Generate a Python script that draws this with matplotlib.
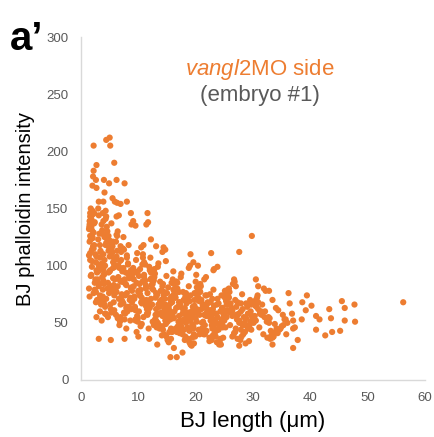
import matplotlib
matplotlib.use("Agg")
import matplotlib.pyplot as plt
import numpy as np

plt.rcParams['font.family'] = ['Liberation Sans', 'DejaVu Sans']
plt.rcParams['mathtext.fontset'] = 'custom'
plt.rcParams['mathtext.rm'] = 'Liberation Sans'
plt.rcParams['mathtext.it'] = 'Liberation Sans:italic'

# ---- data: (BJ length [um], BJ phalloidin intensity) ----
outliers = [(2.2,205),(4.4,210),(5.0,212),(5.1,205),(5.8,190),(2.7,188),(2.2,183),(2.1,178),
            (2.6,175),(4.0,175),(4.9,172),(6.2,175),(7.6,172),(4.1,164),(2.7,168),(2.0,170),
            (3.1,156),(3.9,156),(5.5,159),(5.9,156),(6.3,155),(6.9,154),(8.0,156),(1.7,150),
            (1.9,147),(2.3,146),(3.1,144),(8.7,146),(11.6,146),(11.7,138),(11.4,136),(9.1,139),
            (8.8,136),(9.5,135),(6.6,144),(6.2,143),(1.5,136),(1.5,134),(12.2,123),(13.1,117),
            (14.4,116),(14.7,114),(14.2,112),(19.1,110),(22.7,111),(27.6,112),(29.8,126),
            (1.9,114),(1.6,111),(1.6,105),(23.8,99),(23.2,97),(19.0,100),(19.6,103),(20.4,100),
            (30.5,88),(30.9,82),(26.7,88),(27.0,82),(32.8,78),(1.5,73),(2.7,55),(3.1,36),
            (5.2,35),(7.6,36),(15.6,20),(16.7,20),(17.7,24),(16.2,28),(13.3,31),(27.6,30),
            (3.3,60),(4.3,58)]

band_a = [(1.4,132),(2.9,88),(2.1,117),(3.3,74),(1.8,141),(2.6,103),(3.0,95),(1.6,126),(2.4,79),(3.4,112),
          (2.0,148),(2.8,69),(1.5,121),(3.2,84),(2.3,137),(1.9,99),(2.7,108),(3.5,72),(2.2,129),(1.7,91),
          (2.5,110),(1.6,143),(3.1,82),(2.0,125),(3.4,97),(2.8,70),(1.5,134),(2.2,115),(3.0,150),(1.8,92),
          (2.6,77),(3.3,118),(1.9,104),(2.4,138),(3.5,66),(1.7,123),(2.9,86),(2.1,145),(3.2,101),(1.4,80),
          (3.0,123),(2.2,76),(1.5,139),(2.7,96),(3.3,107),(1.9,131),(2.4,85),(1.7,140),(3.4,113),(2.6,68),
          (2.0,124),(3.1,100),(1.6,146),(2.8,94),(2.3,118),(3.5,73),(1.8,134),(2.5,88),(1.4,109),(3.2,128)]

band_b = [(3.6,128),(5.1,96),(4.3,141),(5.8,74),(3.9,110),(4.7,85),(5.4,119),(4.0,67),(5.6,103),(4.5,134),
          (3.7,90),(5.0,122),(4.2,58),(5.9,99),(4.8,113),(3.8,79),(5.3,137),(4.4,71),(5.7,107),(4.1,125),
          (4.0,92),(5.5,117),(4.6,80),(3.7,131),(5.2,62),(4.1,105),(5.9,88),(3.8,146),(4.9,76),(5.6,98),
          (4.4,120),(3.6,69),(5.0,108),(4.3,127),(5.7,83),(3.9,139),(4.8,94),(5.3,115),(4.2,64),(5.8,101),
          (5.4,112),(3.8,73),(4.5,124),(5.0,95),(3.6,136),(5.7,68),(4.2,100),(4.9,116),(3.9,87),(5.3,59),
          (4.6,130),(5.9,105),(4.0,93),(5.5,78),(4.3,118),(3.7,102),(5.1,66),(4.8,126),(5.6,89),(4.4,143),
          (3.6,52),(5.1,82),(4.3,148),(5.8,61),(3.9,97),(4.7,55),(5.4,111),(4.0,84),(5.6,121),(4.5,57)]

band_c = [(6.1,121),(7.6,88),(6.8,104),(8.5,70),(7.2,95),(6.4,130),(8.0,76),(7.0,112),(8.8,62),(6.6,99),
          (7.9,83),(6.2,108),(8.3,92),(7.4,67),(6.9,117),(8.7,80),(7.7,58),(6.3,126),(8.2,101),(7.1,73),
          (7.3,86),(6.0,106),(8.6,72),(6.7,98),(8.1,60),(7.5,114),(6.5,90),(8.9,78),(7.0,105),(6.2,127),
          (8.4,64),(7.8,94),(6.9,55),(8.0,109),(6.4,82),(7.2,69),(8.7,96),(6.6,71),(7.6,85),(8.3,118),
          (8.2,102),(6.9,66),(7.4,125),(6.1,57),(8.8,81),(7.7,74),(6.3,113),(8.5,94),(7.1,75),(6.8,87),
          (8.0,107),(7.5,59),(6.0,79),(8.6,92),(7.9,63),(6.5,100),(7.3,115),(8.4,89),(6.7,48),(7.8,84),
          (6.4,54),(7.9,45),(8.6,52),(7.0,86),(6.2,77),(8.1,64),(7.4,98),(6.8,51),(8.9,68),(7.6,53)]

band_d = [(9.1,98),(10.6,72),(9.8,111),(11.5,58),(10.2,84),(9.4,63),(11.0,92),(10.0,77),(11.8,69),(9.6,105),
          (10.9,55),(9.2,88),(11.3,80),(10.4,47),(9.9,95),(11.7,66),(10.7,86),(9.3,73),(11.2,101),(10.1,60),
          (10.3,75),(9.0,93),(11.6,57),(9.7,85),(11.1,68),(10.5,116),(9.5,61),(11.9,99),(10.0,78),(9.2,82),
          (11.4,70),(10.8,107),(9.9,51),(11.0,90),(9.4,64),(10.2,74),(11.7,59),(9.6,94),(10.6,67),(11.3,83),
          (11.2,87),(9.9,54),(10.4,79),(9.1,96),(11.8,45),(10.7,101),(9.3,71),(11.5,62),(10.1,91),(9.8,56),
          (11.0,103),(10.5,68),(9.0,89),(11.6,76),(10.9,118),(9.5,52),(10.3,97),(11.4,81),(9.7,42),(10.8,110),
          (10.0,38),(11.3,65),(9.5,53),(11.9,36),(10.6,49)]

band_e = [(12.1,88),(14.6,62),(13.3,75),(15.5,54),(12.8,97),(14.0,70),(15.2,81),(13.6,48),(12.4,66),(14.9,91),
          (13.0,57),(15.8,73),(12.6,79),(14.3,44),(13.8,86),(15.0,60),(12.2,71),(14.7,52),(13.4,99),(15.6,67),
          (13.7,64),(12.3,83),(15.1,51),(13.1,76),(14.4,58),(12.9,93),(15.7,45),(14.1,70),(12.5,84),(15.3,55),
          (13.5,102),(12.0,63),(14.8,49),(13.9,78),(15.9,68),(12.7,87),(14.2,56),(13.2,74),(15.4,61),(14.5,40),
          (15.0,76),(13.6,47),(12.2,94),(14.7,66),(13.0,72),(15.6,53),(12.8,90),(14.0,59),(15.4,42),(12.4,80),
          (13.8,69),(14.9,38),(12.1,107),(15.2,61),(13.4,50),(14.4,74),(12.6,95),(15.8,85),(13.2,46),(14.2,82),
          (12.9,53),(15.5,71),(14.1,39),(12.3,89),(13.7,45),(15.1,35),(14.6,65),(12.0,96),(13.3,57),(15.9,42),
          (14.3,84),(12.5,51),(15.7,36),(13.9,67),(14.8,104),(12.7,48),(13.1,62),(15.3,33),(14.5,77),(13.5,58)]

band_f = [(16.1,79),(18.4,56),(17.2,68),(19.5,47),(16.7,86),(18.0,62),(19.1,74),(17.6,43),(16.3,60),(18.8,82),
          (17.0,51),(19.8,65),(16.5,72),(18.2,38),(17.8,77),(19.3,54),(16.9,64),(18.6,46),(17.4,90),(19.6,58),
          (17.7,58),(16.2,75),(19.0,44),(17.1,68),(18.5,52),(16.8,85),(19.7,40),(18.1,63),(16.4,74),(19.4,49),
          (17.5,93),(16.0,56),(18.9,43),(17.9,70),(19.9,61),(16.6,80),(18.3,50),(17.3,66),(19.2,55),(18.7,36),
          (19.0,69),(17.6,41),(16.2,84),(18.7,59),(17.0,64),(19.6,47),(16.8,80),(18.0,53),(19.4,37),(16.4,72),
          (17.8,62),(18.9,33),(16.1,95),(19.2,55),(17.4,44),(18.4,67),(16.6,86),(19.8,76),(17.2,41),(18.2,73),
          (16.9,47),(19.5,64),(18.1,35),(16.3,79),(17.7,40),(19.1,31),(18.6,58),(16.0,88),(17.3,50),(19.9,38),
          (18.3,76),(16.5,45),(19.7,32),(17.9,60),(18.8,98),(16.7,42),(17.1,56),(19.3,30),(18.5,70),(17.5,52)]

band_g = [(20.1,76),(22.7,55),(21.4,66),(24.2,47),(20.8,84),(22.0,60),(23.8,71),(21.7,42),(20.4,58),(23.1,79),
          (21.1,50),(24.6,63),(20.6,69),(22.4,37),(21.9,74),(23.5,53),(20.2,62),(22.9,45),(21.5,88),(24.9,57),
          (22.2,56),(20.3,73),(23.6,43),(21.2,66),(24.4,50),(20.9,82),(23.0,39),(22.5,61),(20.5,72),(24.1,48),
          (21.8,90),(20.0,54),(23.3,41),(22.1,68),(24.8,59),(20.7,78),(23.9,49),(21.3,64),(24.5,53),(22.8,35),
          (24.0,67),(21.6,40),(20.2,81),(23.4,58),(21.0,62),(24.7,46),(20.8,77),(22.6,52),(24.3,36),(20.4,70),
          (22.3,60),(23.7,33),(20.1,92),(24.9,54),(21.9,43),(23.2,65),(20.6,83),(24.5,74),(21.4,40),(22.9,71),
          (21.1,45),(24.6,62),(22.4,34),(20.3,76),(23.5,38),(24.1,31),(21.5,57),(20.0,86),(22.8,48),(24.8,37),
          (21.7,74),(20.5,44),(24.4,31),(22.0,59),(23.1,96),(20.9,41),(23.8,55),(24.2,33),(22.6,68),(21.3,51),
          (22.9,52),(21.2,45),(23.6,58),(20.7,40),(24.7,63),(22.1,67),(23.4,49),(21.8,56),(24.0,44),(20.3,61)]

band_h = [(25.1,72),(27.6,52),(26.3,63),(29.2,45),(25.8,80),(27.0,57),(28.8,67),(26.7,41),(25.4,55),(28.1,75),
          (26.0,48),(29.6,60),(25.6,66),(27.3,36),(26.9,70),(28.5,50),(25.2,59),(27.9,44),(26.5,84),(29.9,54),
          (27.2,53),(25.3,69),(28.6,42),(26.2,62),(29.4,48),(25.9,77),(28.0,38),(27.5,58),(25.5,68),(29.1,46),
          (26.8,86),(25.0,52),(28.3,40),(27.1,64),(29.8,56),(25.7,73),(28.9,47),(26.4,61),(29.5,51),(27.8,35),
          (29.0,64),(26.6,39),(25.2,76),(28.4,55),(26.0,59),(29.7,44),(25.8,72),(27.6,50),(29.3,34),(25.4,66),
          (27.3,57),(28.7,32),(25.1,78),(29.9,52),(26.9,42),(28.2,62),(25.6,79),(29.5,70),(26.4,38),(27.9,67)]

band_i = [(30.2,68),(32.8,50),(31.4,60),(34.6,44),(30.8,74),(32.0,55),(34.0,63),(31.8,40),(30.5,52),(33.4,70),
          (31.1,46),(35.2,57),(30.9,62),(32.5,37),(31.6,66),(33.8,49),(30.3,56),(33.1,43),(32.2,78),(35.7,53),
          (32.4,51),(30.4,65),(34.3,41),(31.2,58),(35.0,47),(30.7,72),(33.6,38),(32.7,55),(30.6,64),(34.8,45),
          (31.9,80),(30.1,50),(33.2,39),(32.1,60),(35.5,53),(30.9,68),(34.1,45),(31.5,57),(35.3,48),(33.0,36),
          (31.3,59),(33.9,42),(30.5,70),(32.9,54),(34.4,61)]

band_j = [(36.2,76),(36.4,67),(36.8,58),(37.0,52),(37.3,46),(37.0,45),(37.8,35),(37.0,28),(38.5,53),
          (38.6,68),(39.2,61),(39.4,74),(40.2,65),(41.0,56),(41.6,53),(41.0,44),(42.6,39),(43.3,62),
          (43.6,54),(43.8,42),(45.2,43),(45.5,69),(46.0,63),(46.0,52),(47.7,66),(47.8,51),(56.2,68),
          (36.0,50),(35.8,40),(33.4,31),(33.4,37)]

band_k = [(13.5,66),(14.6,71),(15.8,58),(16.6,63),(17.5,47),(18.4,72),(19.3,60),(20.2,51),(21.0,70),(21.9,63),
          (22.8,58),(23.7,66),(24.6,49),(25.5,61),(26.4,56),(27.3,68),(28.2,48),(29.1,58),(13.1,52),(14.2,47),
          (15.3,64),(16.2,54),(17.1,77),(18.0,44),(18.9,52),(19.8,70),(20.7,57),(21.6,48),(22.5,75),(23.4,44),
          (24.3,60),(25.2,46),(26.1,67),(27.0,45),(27.9,60),(28.8,54),(29.7,66),(14.9,56),(19.6,45),(23.0,62)]

x_ticks = [0, 10, 20, 30, 40, 50, 60]
y_ticks = [0, 50, 100, 150, 200, 250, 300]

pts = np.array(outliers + band_a + band_b + band_c + band_d + band_e +
               band_f + band_g + band_h + band_i + band_j + band_k)
length = pts[:, 0]
intensity = pts[:, 1]

ORANGE = '#ED7D31'
GRAY = '#595959'

fig = plt.figure(figsize=(4.34, 4.37), dpi=100)
ax = fig.add_axes([81/434, (437-380)/437, 344/434, 343/437])
ax.scatter(length, intensity, s=20, color=ORANGE, edgecolors='none', zorder=3, clip_on=False)

ax.set_xlim(0, 60)
ax.set_ylim(0, 300)
ax.set_xticks(x_ticks)
ax.set_yticks(y_ticks)
ax.tick_params(axis='both', length=0, labelsize=9.5, labelcolor=GRAY)
ax.tick_params(axis='x', pad=8.5)
ax.tick_params(axis='y', pad=9)
for s in ['top', 'right']:
    ax.spines[s].set_visible(False)
for s in ['left', 'bottom']:
    ax.spines[s].set_color('#D9D9D9')
    ax.spines[s].set_linewidth(1.0)

ax.set_xlabel('BJ length (\u03bcm)', fontsize=16, color='black', labelpad=5)
ax.set_ylabel('BJ phalloidin intensity', fontsize=14.5, color='black', labelpad=8)

ax.text(31.2, 272, r'$\mathit{vangl2}$MO side', fontsize=16, color=ORANGE,
        ha='center', va='center')
ax.text(31.2, 249, '(embryo #1)', fontsize=16, color=GRAY, ha='center', va='center')

fig.text(10/434, 1 - 50/437, 'a\u2019', fontsize=29, fontweight='bold', color='black',
         ha='left', va='baseline')

fig.savefig('out.png', dpi=100)
